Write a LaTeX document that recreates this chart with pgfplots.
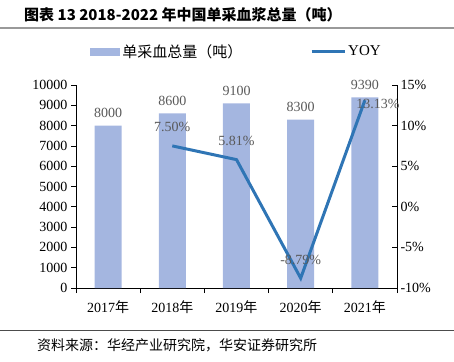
\documentclass[border=0pt]{standalone}
\usepackage{pgfplots}
\pgfplotsset{compat=1.18}
\usepackage{fontspec}
\setmainfont{Liberation Serif}
\newfontfamily\cjk{Noto Sans CJK SC}
\definecolor{barcol}{HTML}{A4B6E0}
\definecolor{linecol}{HTML}{2F75B5}
\definecolor{lblcol}{HTML}{595959}
\begin{document}
\begin{tikzpicture}
\path[use as bounding box] (0,0) rectangle (454bp,-362bp);
\node[anchor=west, inner sep=0pt, font=\cjk\bfseries\fontsize{15bp}{17bp}\selectfont] at (24bp,-15bp) {图表 13 2018-2022 年中国单采血浆总量（吨）};
\draw[color=black!40, line width=2bp] (0,-28bp) -- (454bp,-28bp);
\draw[color=black!70, line width=1bp] (0,-330bp) -- (454bp,-330bp);
\node[anchor=west, inner sep=0pt, font=\cjk\fontsize{14bp}{16bp}\selectfont] at (37bp,-345bp) {资料来源：华经产业研究院，华安证券研究所};

\begin{axis}[
  at={(76bp,-288bp)}, anchor=south west,
  scale only axis, width=321bp, height=203bp,
  xmin=-0.5, xmax=4.5, ymin=0, ymax=10000,
  ytick={0,1000,...,10000},
  scaled y ticks=false,
  /pgf/number format/1000 sep={},
  /pgf/number format/assume math mode=true,
  axis y line*=left, axis x line*=bottom,
  xtick={0,1,2,3,4},
  xticklabels={2017{\cjk 年},2018{\cjk 年},2019{\cjk 年},2020{\cjk 年},2021{\cjk 年}},
  minor xtick={-0.5,0.5,1.5,2.5,3.5,4.5},
  major x tick style={draw=none},
  tick align=outside,
  major tick length=5bp, minor tick length=5bp,
  tick style={black, line width=0.8bp},
  axis line style={black, line width=0.8bp},
  ticklabel style={font=\fontsize{14bp}{16bp}\selectfont},
  xticklabel style={yshift=-4bp},
  ybar, bar width=27bp,
  nodes near coords,
  every node near coord/.append style={font=\fontsize{14bp}{16bp}\selectfont, color=lblcol, yshift=4bp},
  legend columns=2,
  legend style={at={(0.5,1)}, anchor=south, yshift=22bp, draw=none, fill=none,
    font=\fontsize{15bp}{17bp}\selectfont,
    /tikz/every even column/.append style={column sep=66bp}},
]
\addplot[fill=barcol, draw=none, legend image code/.code={\fill[barcol] (0bp,-4bp) rectangle (30bp,4bp);}]
  coordinates {(0,8000) (1,8600) (2,9100) (3,8300) (4,9390)};
\addlegendentry{{\cjk 单采血总量（吨）}}
\addlegendimage{legend image code/.code={\draw[linecol, line width=3bp] (0bp,0bp) -- (33bp,0bp);}}
\addlegendentry{YOY}
\end{axis}

\begin{axis}[
  at={(76bp,-288bp)}, anchor=south west,
  scale only axis, width=321bp, height=203bp,
  xmin=-0.5, xmax=4.5, ymin=-10, ymax=15,
  ytick={-10,-5,0,5,10,15},
  yticklabel={\pgfmathprintnumber{\tick}\%},
  /pgf/number format/assume math mode=true,
  axis y line*=right, axis x line=none,
  tick align=inside, major tick length=5bp,
  tick style={black, line width=0.8bp},
  axis line style={black, line width=0.8bp},
  ticklabel style={font=\fontsize{14bp}{16bp}\selectfont},
  clip=false,
]
\addplot[linecol, line width=3bp, mark=none] coordinates {(1,7.50) (2,5.81) (3,-8.79) (4,13.13)};
\node[font=\fontsize{14bp}{16bp}\selectfont, color=lblcol] at (axis cs:1,7.50) [yshift=19bp] {7.50\%};
\node[font=\fontsize{14bp}{16bp}\selectfont, color=lblcol] at (axis cs:2,5.81) [yshift=19bp] {5.81\%};
\node[font=\fontsize{14bp}{16bp}\selectfont, color=lblcol] at (axis cs:3,-8.79) [yshift=18bp] {-8.79\%};
\node[font=\fontsize{14bp}{16bp}\selectfont, color=lblcol] at (axis cs:4,13.13) [xshift=13bp, yshift=-4bp] {13.13\%};
\end{axis}
\end{tikzpicture}
\end{document}
